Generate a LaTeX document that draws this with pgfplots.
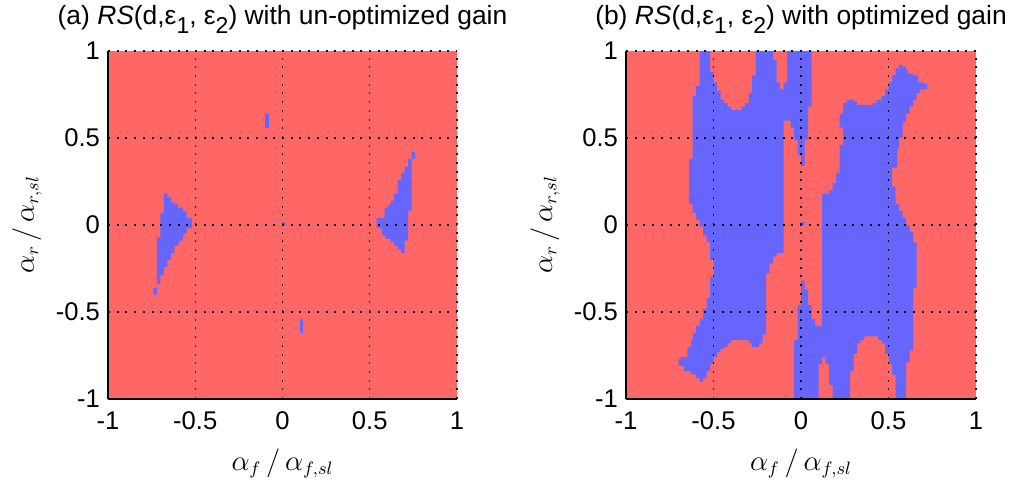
\documentclass[border=0pt]{standalone}
\usepackage{fontspec}
\setmainfont{Liberation Sans}
\usepackage{pgfplots}
\pgfplotsset{compat=1.18}
\definecolor{rsred}{RGB}{255,102,102}
\definecolor{rsblue}{RGB}{102,102,255}
\newcommand{\lsub}[1]{\raisebox{-0.32em}{\fontsize{11.5}{12}\selectfont #1}}
\pgfplotsset{rsaxis/.style={
  scale only axis, height=174pt,
  xmin=-1, xmax=1, ymin=-1, ymax=1,
  axis x line=bottom, axis y line=left,
  axis line style={-, line width=0.75pt, black},
  xtick={-1,-0.5,0,0.5,1}, ytick={-1,-0.5,0,0.5,1},
  xticklabels={-1,-0.5,0,0.5,1}, yticklabels={-1,-0.5,0,0.5,1},
  major tick length=0pt, tick style={draw=none},
  grid=major,
  major grid style={black, line width=0.7pt, dash pattern=on 1pt off 3.35pt},
  axis on top,
  axis background/.style={fill=rsred},
  tick label style={font=\fontsize{12.8}{14}\selectfont},
  xticklabel style={yshift=-3pt},
  yticklabel style={xshift=-0.5pt},
  xlabel={$\alpha_{f}\,/\,\alpha_{f,sl}$},
  ylabel={$\alpha_{r}\,/\,\alpha_{r,sl}$},
  label style={font=\fontsize{13.5}{15}\selectfont},
  xlabel style={at={(axis description cs:0.5,0)}, anchor=base, yshift=-35.5pt},
  ylabel style={at={(axis description cs:0,0.5)}, anchor=base, yshift=37pt},
  title style={at={(axis description cs:0.5,1)}, anchor=base, yshift=7pt, font=\fontsize{13.2}{15}\selectfont},
}}
\begin{document}
\begin{tikzpicture}
%================ panel (a) ================
\begin{axis}[rsaxis, width=174.5pt, at={(54pt,44pt)}, anchor=south west,
  title={(a) \textit{RS}(d,ε\lsub{1}, ε\lsub{2}) with un-optimized gain}]
\addplot[fill=rsblue, draw=none] coordinates {
 (-0.68,0.18) (-0.66,0.18) (-0.66,0.16) (-0.64,0.16) (-0.64,0.13) (-0.62,0.13)
 (-0.62,0.12) (-0.60,0.12) (-0.60,0.10) (-0.57,0.10) (-0.57,0.08) (-0.55,0.08)
 (-0.55,0.04) (-0.52,0.04) (-0.52,-0.02) (-0.55,-0.02) (-0.55,-0.05) (-0.57,-0.05)
 (-0.57,-0.09) (-0.59,-0.09) (-0.59,-0.11) (-0.60,-0.11) (-0.60,-0.12) (-0.62,-0.12)
 (-0.62,-0.16) (-0.64,-0.16) (-0.64,-0.20) (-0.66,-0.20) (-0.66,-0.24) (-0.68,-0.24)
 (-0.68,-0.29) (-0.70,-0.29) (-0.70,-0.34) (-0.72,-0.34) (-0.72,-0.40) (-0.74,-0.40)
 (-0.74,-0.36) (-0.72,-0.36) (-0.72,-0.07) (-0.70,-0.07) (-0.70,0.07) (-0.68,0.07)
} -- cycle;
\addplot[fill=rsblue, draw=none] coordinates {
 (0.74,0.42) (0.76,0.42) (0.76,0.38) (0.74,0.38) (0.74,0.08) (0.72,0.08)
 (0.72,-0.09) (0.70,-0.09) (0.70,-0.16) (0.68,-0.16) (0.68,-0.14) (0.66,-0.14)
 (0.66,-0.12) (0.64,-0.12) (0.64,-0.10) (0.62,-0.10) (0.62,-0.08) (0.59,-0.08)
 (0.59,-0.06) (0.57,-0.06) (0.57,-0.02) (0.54,-0.02) (0.54,0.04) (0.585,0.04)
 (0.585,0.10) (0.605,0.10) (0.605,0.115) (0.62,0.115) (0.62,0.14) (0.64,0.14)
 (0.64,0.18) (0.66,0.18) (0.66,0.26) (0.68,0.26) (0.68,0.30) (0.70,0.30)
 (0.70,0.335) (0.72,0.335) (0.72,0.38) (0.74,0.38)
} -- cycle;
\addplot[fill=rsblue, draw=none] coordinates {(-0.10,0.56) (-0.08,0.56) (-0.08,0.64) (-0.10,0.64)} -- cycle;
\addplot[fill=rsblue, draw=none] coordinates {(0.10,-0.62) (0.12,-0.62) (0.12,-0.54) (0.10,-0.54)} -- cycle;
\addplot[fill=rsblue, draw=none] coordinates {(0.0,0.0) (0.02,0.0) (0.02,0.02) (0.0,0.02)} -- cycle;
\end{axis}
%================ panel (b) ================
\begin{axis}[rsaxis, width=175pt, at={(313pt,44pt)}, anchor=south west,
  title={(b) \textit{RS}(d,ε\lsub{1}, ε\lsub{2}) with optimized gain}]
\addplot[fill=rsblue, draw=none] coordinates {
 (-0.58,1) (-0.52,1) (-0.52,0.88) (-0.50,0.88) (-0.50,0.82) (-0.48,0.82)
 (-0.48,0.77) (-0.46,0.77) (-0.46,0.72) (-0.44,0.72) (-0.44,0.70) (-0.42,0.70)
 (-0.42,0.68) (-0.40,0.68) (-0.40,0.66) (-0.34,0.66) (-0.34,0.68) (-0.32,0.68)
 (-0.32,0.70) (-0.30,0.70) (-0.30,0.76) (-0.28,0.76) (-0.28,0.86) (-0.26,0.86)
 (-0.26,1) (-0.16,1) (-0.16,0.95) (-0.14,0.95) (-0.14,0.82) (-0.12,0.82)
 (-0.12,0.78) (-0.10,0.78) (-0.10,0.82) (-0.08,0.82) (-0.08,1) (0.06,1)
 (0.06,0.68) (0.04,0.68) (0.04,0.49) (0.02,0.49) (0.02,0.34) (0.0,0.34)
 (0.0,0.40) (-0.02,0.40) (-0.02,0.49) (-0.04,0.49) (-0.04,0.56) (-0.06,0.56)
 (-0.06,0.60) (-0.10,0.60) (-0.10,-0.16) (-0.14,-0.16) (-0.14,-0.18) (-0.16,-0.18)
 (-0.16,-0.22) (-0.18,-0.22) (-0.18,-0.28) (-0.20,-0.28) (-0.20,-0.63) (-0.22,-0.63)
 (-0.22,-0.68) (-0.24,-0.68) (-0.24,-0.70) (-0.28,-0.70) (-0.28,-0.68) (-0.30,-0.68)
 (-0.30,-0.66) (-0.40,-0.66) (-0.40,-0.68) (-0.42,-0.68) (-0.42,-0.70) (-0.44,-0.70)
 (-0.44,-0.71) (-0.46,-0.71) (-0.46,-0.73) (-0.48,-0.73) (-0.48,-0.76) (-0.50,-0.76)
 (-0.50,-0.80) (-0.52,-0.80) (-0.52,-0.84) (-0.54,-0.84) (-0.54,-0.88) (-0.56,-0.88)
 (-0.56,-0.90) (-0.58,-0.90) (-0.58,-0.88) (-0.60,-0.88) (-0.60,-0.86) (-0.63,-0.86)
 (-0.63,-0.84) (-0.67,-0.84) (-0.67,-0.81) (-0.70,-0.81) (-0.70,-0.77) (-0.69,-0.77)
 (-0.69,-0.76) (-0.65,-0.76) (-0.65,-0.70) (-0.63,-0.70) (-0.63,-0.66) (-0.62,-0.66)
 (-0.62,-0.62) (-0.60,-0.62) (-0.60,-0.58) (-0.58,-0.58) (-0.58,-0.54) (-0.56,-0.54)
 (-0.56,-0.48) (-0.54,-0.48) (-0.54,-0.42) (-0.52,-0.42) (-0.52,-0.30) (-0.50,-0.30)
 (-0.50,-0.20) (-0.52,-0.20) (-0.52,-0.10) (-0.54,-0.10) (-0.54,-0.06) (-0.56,-0.06)
 (-0.56,-0.01) (-0.58,-0.01) (-0.58,0.03) (-0.60,0.03) (-0.60,0.07) (-0.62,0.07)
 (-0.62,0.12) (-0.64,0.12) (-0.64,0.38) (-0.62,0.38) (-0.62,0.74) (-0.60,0.74)
 (-0.60,0.80) (-0.58,0.80)
} -- cycle;
\addplot[fill=rsblue, draw=none] coordinates {
 (0.24,0.64) (0.24,0.70) (0.26,0.70) (0.26,0.72) (0.30,0.72) (0.30,0.71)
 (0.32,0.71) (0.32,0.69) (0.41,0.69) (0.41,0.70) (0.43,0.70) (0.43,0.72)
 (0.46,0.72) (0.46,0.74) (0.48,0.74) (0.48,0.78) (0.50,0.78) (0.50,0.82)
 (0.52,0.82) (0.52,0.86) (0.54,0.86) (0.54,0.90) (0.56,0.90) (0.56,0.92)
 (0.58,0.92) (0.58,0.91) (0.60,0.91) (0.60,0.89) (0.61,0.89) (0.61,0.87)
 (0.64,0.87) (0.64,0.86) (0.67,0.86) (0.67,0.82) (0.70,0.82) (0.70,0.81)
 (0.72,0.81) (0.72,0.78) (0.68,0.78) (0.68,0.76) (0.66,0.76) (0.66,0.72)
 (0.64,0.72) (0.64,0.68) (0.62,0.68) (0.62,0.64) (0.60,0.64) (0.60,0.59)
 (0.58,0.59) (0.58,0.50) (0.56,0.50) (0.56,0.44) (0.55,0.44) (0.55,0.33)
 (0.52,0.33) (0.52,0.22) (0.54,0.22) (0.54,0.12) (0.56,0.12) (0.56,0.08)
 (0.58,0.08) (0.58,0.04) (0.60,0.04) (0.60,0.0) (0.62,0.0) (0.62,-0.04)
 (0.64,-0.04) (0.64,-0.10) (0.66,-0.10) (0.66,-0.36) (0.64,-0.36) (0.64,-0.72)
 (0.62,-0.72) (0.62,-0.79) (0.60,-0.79) (0.60,-1) (0.54,-1) (0.54,-0.86)
 (0.52,-0.86) (0.52,-0.80) (0.50,-0.80) (0.50,-0.74) (0.48,-0.74) (0.48,-0.68)
 (0.46,-0.68) (0.46,-0.66) (0.44,-0.66) (0.44,-0.64) (0.36,-0.64) (0.36,-0.66)
 (0.34,-0.66) (0.34,-0.68) (0.32,-0.68) (0.32,-0.74) (0.30,-0.74) (0.30,-0.84)
 (0.28,-0.84) (0.28,-1) (0.18,-1) (0.18,-0.92) (0.16,-0.92) (0.16,-0.80)
 (0.14,-0.80) (0.14,-0.76) (0.12,-0.76) (0.12,-0.80) (0.10,-0.80) (0.10,-1)
 (-0.04,-1) (-0.04,-0.66) (-0.02,-0.66) (-0.02,-0.46) (0.0,-0.46) (0.0,-0.32)
 (0.02,-0.32) (0.02,-0.37) (0.04,-0.37) (0.04,-0.46) (0.06,-0.46) (0.06,-0.54)
 (0.08,-0.54) (0.08,-0.58) (0.12,-0.58) (0.12,0.18) (0.16,0.18) (0.16,0.20)
 (0.18,0.20) (0.18,0.24) (0.20,0.24) (0.20,0.30) (0.22,0.30) (0.22,0.46)
 (0.24,0.46) (0.24,0.56) (0.22,0.56) (0.22,0.64)
} -- cycle;
\addplot[fill=rsblue, draw=none] coordinates {(0.0,0.0) (0.02,0.0) (0.02,0.02) (0.0,0.02)} -- cycle;
\end{axis}
\pgfresetboundingbox
\useasboundingbox (0,0) rectangle (510.5pt,243.5pt);
\end{tikzpicture}
\end{document}
